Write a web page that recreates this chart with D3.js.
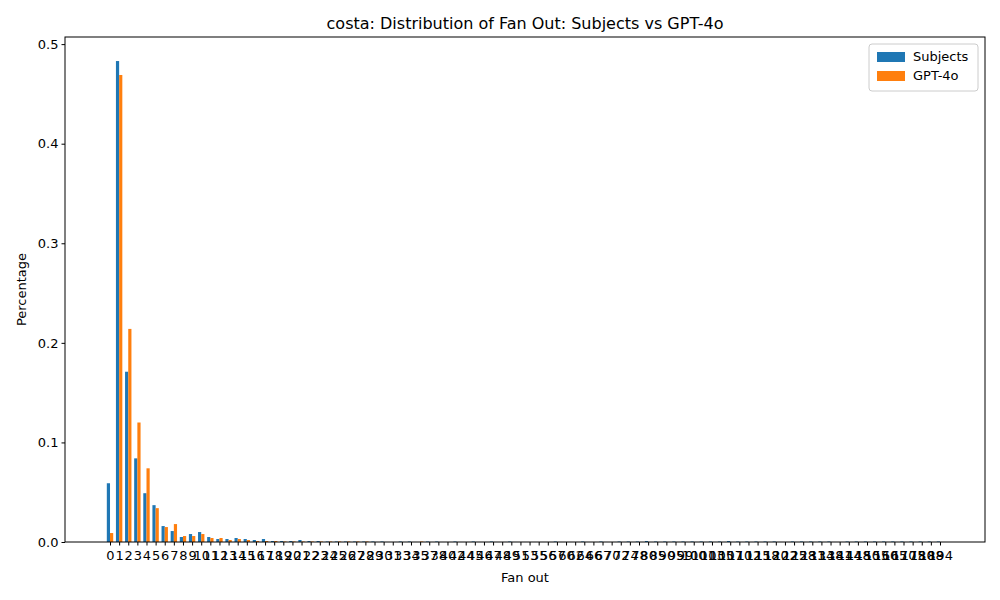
<!DOCTYPE html>
<html><head><meta charset="utf-8">
<script src="https://cdn.jsdelivr.net/npm/d3@7"></script>
<style>body{margin:0;background:#fff}text{font-family:"DejaVu Sans",sans-serif}</style>
</head><body><svg id="c" width="1000" height="600"></svg>
<script>
const fanOut = [0,1,2,3,4,5,6,7,8,9,10,11,12,13,14,15,16,17,18,19,20,21,22,23,24,25,26,27,
  28,29,30,31,33,34,35,37,38,40,42,44,45,46,47,48,49,51,53,55,56,57,60,62,64,66,67,70,72,74,
  78,80,85,90,95,99,100,101,103,105,107,110,112,115,118,120,122,125,128,131,134,138,141,144,148,
  150,155,160,165,170,175,180,188,194];
const subjects = [0.059,0.483,0.171,0.084,0.049,0.037,0.016,0.011,0.005,0.008,0.010,0.005,0.003,0.003,
  0.004,0.003,0.002,0.003,0.001,0.001,0.001,0.002,0.001,0.001,0.0005,0.0005,0.0005,0.0005,
  0.0005,0.0005,0.0005,0,0.0005,0.0005,0,0.0005,0.0005,0,0.0005,0,0.0005,0,0.0005,0,0.0005,0,0,0,
  0,0.0005,0,0,0.0005,0,0.0005,0,0.0005,0.0005,0.0005,0.001,0.0005,0.0005,0.0005,0.0005,0.0005,
  0.0005,0.0005,0.0005,0.001,0.0005,0.0005,0.0005,0.0005,0.0005,0,0.0005,0.0005,0.0005,0.0005,
  0.0005,0,0.0005,0.0005,0.0005,0.0005,0.0005,0.0005,0.0005,0.0005,0.0005,0.0005,0.0005];
const gpt = [0.009,0.469,0.214,0.120,0.074,0.034,0.015,0.018,0.006,0.006,0.008,0.004,0.004,0.002,
  0.003,0.002,0.001,0.001,0.001,0.0005,0.0005,0.0005,0.0005,0.0005,0.0005,0.0005,0.0005,0.0005,
  0.0005,0,0,0,0,0,0.0005,0,0,0,0,0,0,0,0,0,0,0,0,0,0,0,0,0,0,0,0,0,0,0,0,0,0,0,0,0,0,0,0,0,0,0,
  0,0,0,0,0,0,0,0,0,0,0,0,0,0,0,0,0,0,0,0,0,0];
const yTicks = [0,0.1,0.2,0.3,0.4,0.5];

const svg = d3.select("#c");
const margin = {top: 37, right: 15, bottom: 58, left: 65};
const W = 1000, H = 600;
const w = 0.35;
const n = fanOut.length;
const lo = -w, hi = n - 1 + w, pad = (hi - lo) * 0.05;
const x = d3.scaleLinear().domain([lo - pad, hi + pad]).range([margin.left, W - margin.right]);
const ymax = d3.max(subjects.concat(gpt)) * 1.05;
const y = d3.scaleLinear().domain([0, ymax]).range([H - margin.bottom, margin.top]);

const series = [{name: "Subjects", vals: subjects, color: "#1f77b4", off: -w/2},
                {name: "GPT-4o", vals: gpt, color: "#ff7f0e", off: w/2}];
series.forEach(s => {
  svg.append("g").selectAll("rect").data(s.vals).join("rect")
    .attr("x", (d, i) => x(i + s.off - w/2))
    .attr("width", x(w) - x(0))
    .attr("y", d => y(d))
    .attr("height", d => y(0) - y(d))
    .attr("fill", s.color);
});

svg.append("g").attr("transform", `translate(0,${H - margin.bottom})`)
  .call(d3.axisBottom(x).tickValues(d3.range(n)).tickFormat(i => fanOut[i]).tickSize(3.5).tickSizeOuter(0))
  .call(g => g.selectAll("text").attr("font-size", 13).attr("fill", "#000").attr("dy", "0.9em"))
  .call(g => g.select(".domain").remove());
svg.append("g").attr("transform", `translate(${margin.left},0)`)
  .call(d3.axisLeft(y).tickValues(yTicks).tickFormat(d3.format(".1f")).tickSize(3.5).tickSizeOuter(0))
  .call(g => g.selectAll("text").attr("font-size", 13).attr("fill", "#000"))
  .call(g => g.select(".domain").remove());

svg.append("rect").attr("x", margin.left).attr("y", margin.top)
  .attr("width", W - margin.left - margin.right).attr("height", H - margin.top - margin.bottom)
  .attr("fill", "none").attr("stroke", "#000").attr("stroke-width", 1);

svg.append("text").attr("x", (margin.left + W - margin.right) / 2).attr("y", 29)
  .attr("text-anchor", "middle").attr("font-size", 16).text("costa: Distribution of Fan Out: Subjects vs GPT-4o");
svg.append("text").attr("x", (margin.left + W - margin.right) / 2).attr("y", 582)
  .attr("text-anchor", "middle").attr("font-size", 13).text("Fan out");
svg.append("text").attr("transform", `translate(26,${(margin.top + H - margin.bottom) / 2}) rotate(-90)`)
  .attr("text-anchor", "middle").attr("font-size", 13).text("Percentage");

const lg = svg.append("g").attr("transform", "translate(869,44)");
lg.append("rect").attr("width", 109).attr("height", 47).attr("rx", 3)
  .attr("fill", "#fff").attr("stroke", "#ccc");
series.forEach((s, i) => {
  lg.append("rect").attr("x", 8).attr("y", 8 + i * 19).attr("width", 28).attr("height", 10).attr("fill", s.color);
  lg.append("text").attr("x", 44).attr("y", 17 + i * 19).attr("font-size", 13).text(s.name);
});
</script></body></html>
